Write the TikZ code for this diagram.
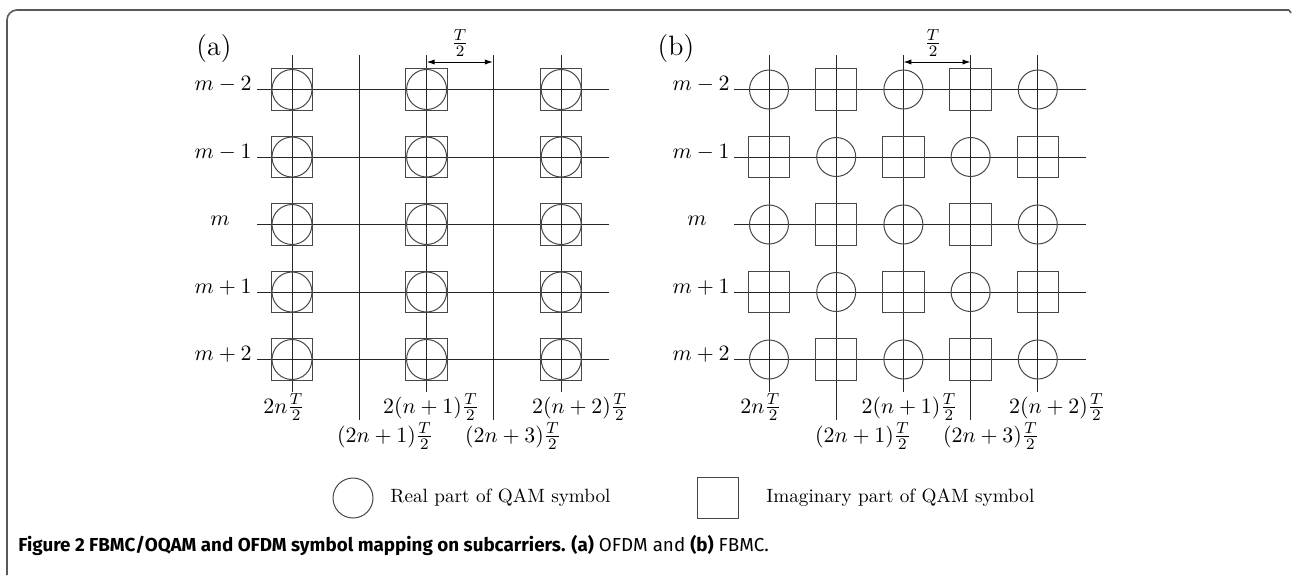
\documentclass[tikz,border=0pt]{standalone}
\usepackage{fontspec}
\usepackage{graphicx}
\newfontfamily\capfont{Fira Sans}
\usetikzlibrary{arrows.meta}
\begin{document}
\begin{tikzpicture}[x=0.5pt,y=-0.5pt,
  gridline/.style={line width=0.5pt, draw=black!85},
  sym/.style={draw=black!72, line width=0.5pt, inner sep=0pt, outer sep=0pt},
  circ/.style={sym, circle, minimum size=20pt},
  sq/.style={sym, rectangle, minimum size=20.7pt},
  lbl/.style={font=\fontsize{10.8}{13}\selectfont, inner sep=0pt},
  panel/.style={font=\fontsize{14}{16}\selectfont, inner sep=0pt},
  legtext/.style={font=\fontsize{9.6}{11}\selectfont, inner sep=0pt, anchor=west},
  dim/.style={line width=0.5pt, {Latex[length=4pt,width=2.6pt]}-{Latex[length=4pt,width=2.6pt]}}
]
\useasboundingbox (0,0) rectangle (1292,575);
% frame
\draw[black!65, line width=0.8pt, rounded corners=5pt] (7,575) -- (7,10) -- (1289,10);
\draw[black!65, line width=0.8pt] (1289,10) -- (1291,13);

% ---------------- panel (a)
\node[panel] (pa) at (214,49) {(a)};
\foreach \r in {0,...,4} {
  \draw[gridline] (257,{89.5+\r*67.5}) -- (609,{89.5+\r*67.5});
}
\foreach \c in {0,...,4} {
  \pgfmathtruncatemacro{\p}{mod(\c,2)}
  \ifnum\p=0
    \draw[gridline] ({292+\c*67.3},55) -- ({292+\c*67.3},392);
  \else
    \draw[gridline] ({292+\c*67.3},55) -- ({292+\c*67.3},420);
  \fi
}
\foreach \r in {0,...,4} {
  \foreach \c in {0,2,4} {
    \node[sq] (as-\r-\c) at ({292+\c*67.3},{89.5+\r*67.5}) {};
    \node[circ] (ac-\r-\c) at ({292+\c*67.3},{89.5+\r*67.5}) {};
  }
}
\node[lbl, anchor=base east] (am2) at (252,90.5) {$m-2$};
\node[lbl, anchor=base east] (am1) at (252,158) {$m-1$};
\node[lbl, anchor=base] (am0) at (220,225.5) {$m$};
\node[lbl, anchor=base east] (ap1) at (252,293) {$m+1$};
\node[lbl, anchor=base east] (ap2) at (252,360.5) {$m+2$};
\coordinate (aT1) at (426.6,62);
\coordinate (aT2) at (492.9,62);
\draw[dim] (aT1) -- (aT2);
\node[lbl] (aTl) at (460,43) {$\frac{T}{2}$};
\node[lbl, anchor=base] (ax0) at (284,413) {$2n\frac{T}{2}$};
\node[lbl, anchor=base] (ax2) at (431,413) {$2(n+1)\frac{T}{2}$};
\node[lbl, anchor=base] (ax4) at (580,413) {$2(n+2)\frac{T}{2}$};
\node[lbl, anchor=base] (ax1) at (385,442) {$(2n+1)\frac{T}{2}$};
\node[lbl, anchor=base] (ax3) at (513,442) {$(2n+3)\frac{T}{2}$};

% ---------------- panel (b)
\node[panel] (pb) at (676,49) {(b)};
\foreach \r in {0,...,4} {
  \draw[gridline] (734,{89.5+\r*67.5}) -- (1086,{89.5+\r*67.5});
}
\foreach \c in {0,...,4} {
  \pgfmathtruncatemacro{\p}{mod(\c,2)}
  \ifnum\p=0
    \draw[gridline] ({769+\c*67.2},55) -- ({769+\c*67.2},392);
  \else
    \draw[gridline] ({769+\c*67.2},55) -- ({769+\c*67.2},420);
  \fi
}
\foreach \r in {0,...,4} {
  \foreach \c in {0,...,4} {
    \pgfmathtruncatemacro{\p}{mod(\r+\c,2)}
    \ifnum\p=0
      \node[circ, minimum size=19.5pt] (b-\r-\c) at ({769+\c*67.2},{89.5+\r*67.5}) {};
    \else
      \node[sq] (b-\r-\c) at ({769+\c*67.2},{89.5+\r*67.5}) {};
    \fi
  }
}
\node[lbl, anchor=base east] (bm2) at (730,90.5) {$m-2$};
\node[lbl, anchor=base east] (bm1) at (730,158) {$m-1$};
\node[lbl, anchor=base] (bm0) at (697,225.5) {$m$};
\node[lbl, anchor=base east] (bp1) at (730,293) {$m+1$};
\node[lbl, anchor=base east] (bp2) at (730,360.5) {$m+2$};
\coordinate (bT1) at (903.4,62);
\coordinate (bT2) at (970.6,62);
\draw[dim] (bT1) -- (bT2);
\node[lbl] (bTl) at (933,43) {$\frac{T}{2}$};
\node[lbl, anchor=base] (bx0) at (761,413) {$2n\frac{T}{2}$};
\node[lbl, anchor=base] (bx2) at (909.5,413) {$2(n+1)\frac{T}{2}$};
\node[lbl, anchor=base] (bx4) at (1057,413) {$2(n+2)\frac{T}{2}$};
\node[lbl, anchor=base] (bx1) at (863,442) {$(2n+1)\frac{T}{2}$};
\node[lbl, anchor=base] (bx3) at (991,442) {$(2n+3)\frac{T}{2}$};

% ---------------- legend
\node[circ] (lc) at (353,498) {};
\node[legtext] (lct) at (390,498) {Real part of QAM symbol};
\node[sq] (ls) at (718,498) {};
\node[legtext] (lst) at (766,498) {Imaginary part of QAM symbol};

% ---------------- caption
\node[anchor=base west, inner sep=0pt] (cap) at (18,551)
  {\capfont\fontsize{9.4}{11}\selectfont\textbf{Figure 2 FBMC/OQAM and OFDM symbol mapping on subcarriers. (a)} OFDM and \textbf{(b)} FBMC.};
\end{tikzpicture}
\end{document}
